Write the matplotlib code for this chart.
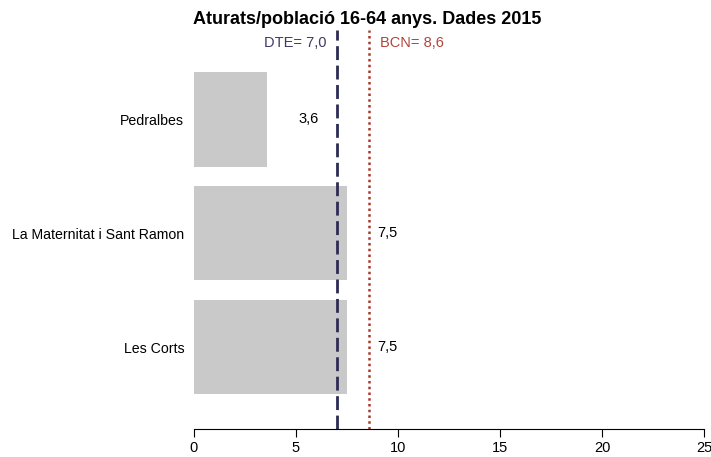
import matplotlib.pyplot as plt

plt.rcParams['font.family'] = ['Liberation Sans', 'DejaVu Sans']

barris = ['Pedralbes', 'La Maternitat i Sant Ramon', 'Les Corts']
valors = [3.6, 7.5, 7.5]
dte = 7.0
bcn = 8.6
xticks = [0, 5, 10, 15, 20, 25]

fig = plt.figure(figsize=(7.11, 4.57), dpi=100)
ax = fig.add_axes([194/711, (457-429)/457, 510/711, 399/457])

pos = list(range(len(barris)))
ax.barh(pos, valors, height=0.83, color='#c9c9c9')

for p, v in zip(pos, valors):
    ax.text(v + 2, p, f'{v:.1f}'.replace('.', ','), ha='center', va='center', fontsize=10.5)

ax.axvline(dte, color='#2d2b55', lw=2, linestyle=(0, (5, 2)))
ax.axvline(bcn, color='#a8392c', lw=1.8, linestyle=(0, (1, 1.3)))

ax.text(dte - 0.5, -0.67, f'DTE= {dte:.1f}'.replace('.', ','), color='#3c3a66',
        ha='right', va='center', fontsize=10.5)
ax.text(bcn + 0.5, -0.67, f'BCN= {bcn:.1f}'.replace('.', ','), color='#b0453a',
        ha='left', va='center', fontsize=10.5)

ax.set_xlim(0, 25)
ax.set_ylim(2.72, -0.785)
ax.set_xticks(xticks)
ax.set_xticklabels([str(t) for t in xticks], fontsize=10.5)
ax.set_yticks(pos)
ax.set_yticklabels(barris, fontsize=10.2)
ax.tick_params(axis='y', length=0, pad=7)
ax.tick_params(axis='x', length=6, pad=3)
for s in ['top', 'right', 'left']:
    ax.spines[s].set_visible(False)
ax.spines['bottom'].set_bounds(0, 25)
ax.margins(x=0)

fig.text(367/711, 1 - 20/457, 'Aturats/població 16-64 anys. Dades 2015', ha='center', va='center',
         fontsize=13, fontweight='bold')

fig.savefig('out.png', dpi=100)
